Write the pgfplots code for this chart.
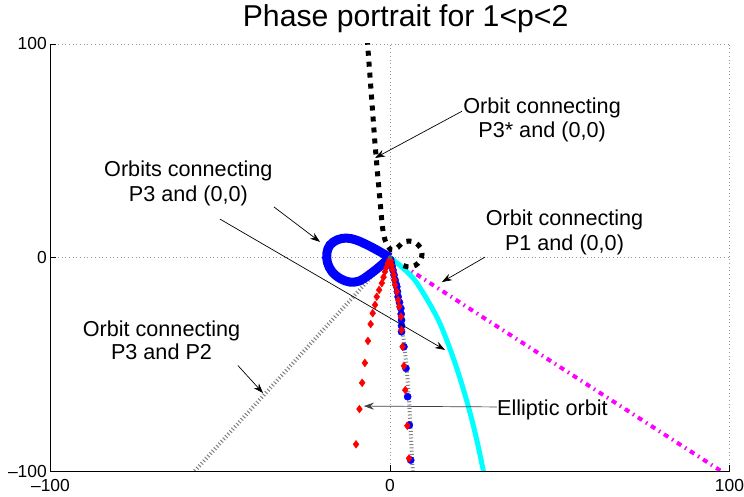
\documentclass[border=0pt]{standalone}
\usepackage{pgfplots}
\pgfplotsset{compat=1.18}
\usepackage{fontspec}
\setmainfont{Liberation Sans}
\usetikzlibrary{arrows.meta}
\definecolor{mcyan}{rgb}{0,1,1}
\definecolor{mmag}{rgb}{1,0,1}
\definecolor{mblue}{rgb}{0,0,1}
\definecolor{mred}{rgb}{1,0,0}
\definecolor{mgray}{rgb}{0.5,0.5,0.5}
\newcommand{\annfont}{\fontsize{21.7}{25}\selectfont}
\begin{document}
\begin{tikzpicture}
\begin{axis}[
  at={(0,0)}, anchor=south west,
  scale only axis, width=679bp, height=427bp,
  xmin=-100,xmax=100,ymin=-100,ymax=100,
  axis x line*=bottom, axis y line*=left,
  axis line style={line width=0.8bp, black},
  xtick={-100,0,100}, ytick={-100,0,100},
  xticklabels={\textendash100,0,100}, yticklabels={\textendash100,0,100},
  tick label style={font=\fontsize{17.5}{20}\selectfont, inner sep=0pt},
  xticklabel style={yshift=-8.5bp}, yticklabel style={xshift=-3.5bp},
  tick align=inside, major tick length=6bp, tick style={black, line width=0.6bp},
  grid=major, major grid style={gray!80, line width=0.7bp, dash pattern=on 0.7bp off 3bp},
  clip mode=individual,
]
% gray ticked orbit P3 -- P2
\addplot[mgray, line width=4bp, dash pattern=on 1bp off 2.3bp] coordinates {(-57.5,-100) (-2,-3)};
% gray ticked orbit along elliptic branch
\addplot[mgray, line width=4bp, dash pattern=on 1bp off 2.3bp, smooth] coordinates {(0,0) (0.6,-4) (1.3,-10) (2.1,-17) (2.8,-24) (3.5,-31) (4.1,-40) (4.8,-50) (5.4,-62) (6.0,-78) (6.5,-94) (6.7,-100)};
% magenta dash-dot P1
\addplot[mmag, line width=4bp, dash pattern=on 5bp off 4.5bp on 1.5bp off 4.5bp] coordinates {(4,-4) (97.5,-100)};
% cyan
\addplot[mcyan, line width=5bp, smooth] coordinates {(0,0) (3,-3.8) (7,-10) (10.5,-18.5) (14.3,-29.5) (17.5,-42) (20.5,-56) (23.2,-70.5) (25.5,-85) (27.5,-100) (27.8,-103)};
% black dotted P3*
\addplot[black, line width=5bp, dash pattern=on 5bp off 6bp, smooth, tension=0.5] coordinates {(-6.7,102) (-5.9,85) (-5.2,70) (-4.5,55) (-3.7,40) (-2.9,26) (-2.2,14) (-1.3,7.5) (0.3,3.6) (2.27,4.68) (3.68,6.93) (5.6,7.73) (7.51,6.93) (8.93,4.68) (9.43,1.64) (8.93,-1.41) (7.51,-3.65) (5.6,-4.45) (3.68,-3.65)};
% blue loop
\addplot[mblue, line width=9bp, smooth, tension=0.6] coordinates {(0,0) (-2.5,2.3) (-5,4.5) (-7.5,6.5) (-10,8.2) (-12.8,9.1) (-15.5,8.3) (-17.7,5.8) (-18.6,2) (-18.4,-2.5) (-17,-6.8) (-14.5,-10) (-11.8,-11.5) (-9,-11) (-6.5,-8.5) (-4,-5.5) (-2,-2.8) (0,0)};
% blue circles
\addplot[only marks, mark=*, mark size=3.6bp, mblue] coordinates {(0.2,-1) (0.4,-2.5) (0.6,-4) (0.9,-6) (1.2,-8.2) (1.5,-10.5) (1.8,-12.5) (2.0,-13.7) (2.2,-16) (2.4,-18.4) (2.8,-21) (3.2,-23.8) (3.3,-26.5) (3.4,-29.3) (3.4,-32) (3.4,-34.8) (4.1,-41.8) (4.7,-51.9) (5.2,-65.2) (5.7,-78.5) (6.1,-94.9)};
% red diamonds
\addplot[only marks, mark=diamond*, mark size=3.9bp, mred] coordinates {(0.2,-1.5) (0.5,-3.5) (0.8,-5.8) (1.1,-8.2) (1.3,-10.5) (1.5,-12.9) (2.0,-16.0) (2.4,-19.9) (2.7,-23.0) (3.2,-27.7) (3.4,-34.0) (3.7,-41.8) (4.1,-50.8) (4.5,-62.1) (5.1,-78.8) (5.6,-94.1)};
\addplot[only marks, mark=diamond*, mark size=3.9bp, mred] coordinates {(-0.2,-1.2) (-0.6,-2.7) (-1.0,-4.6) (-1.5,-6.7) (-1.9,-9.2) (-2.4,-12) (-3.2,-15.2) (-3.9,-18.4) (-4.4,-22.2) (-5.1,-26.1) (-5.7,-31.2) (-6.5,-39.1) (-7.4,-49.4) (-8.2,-58.7) (-9.0,-71.0) (-10.0,-87.5)};
% origin marker
\addplot[only marks, mark=*, mark size=2bp, draw=mmag, fill=green!60!black] coordinates {(0,0)};

% annotations
\tikzset{ann/.style={black, line width=0.7bp, -{Stealth[length=10bp,width=7bp]}}}
\draw[ann] (axis cs:21.2,68.5) -- (axis cs:-4.4,46.6);
\draw[ann] (axis cs:-34.2,23.7) -- (axis cs:-20.6,7.3);
\draw[ann] (axis cs:-50.1,18.0) -- (axis cs:16.2,-43.3);
\draw[ann] (axis cs:28.0,0.2) -- (axis cs:15.3,-11.5);
\draw[ann] (axis cs:-44.8,-50.6) -- (axis cs:-37.4,-63.5);
\draw[ann, draw=black!75] (axis cs:31.5,-70.0) -- (axis cs:-7.7,-69.6);

\node[anchor=base, font=\annfont] at (axis cs:44.8,67.5) {Orbit connecting};
\node[anchor=base, font=\annfont] at (axis cs:44.8,56.1) {P3* and (0,0)};
\node[anchor=base, font=\annfont] at (axis cs:-59.4,37.8) {Orbits connecting};
\node[anchor=base, font=\annfont] at (axis cs:-59.4,26.1) {P3 and (0,0)};
\node[anchor=base, font=\annfont] at (axis cs:51.4,14.8) {Orbit connecting};
\node[anchor=base, font=\annfont] at (axis cs:51.4,3.2) {P1 and (0,0)};
\node[anchor=base, font=\annfont] at (axis cs:-67.3,-36.8) {Orbit connecting};
\node[anchor=base, font=\annfont] at (axis cs:-67.3,-48.0) {P3 and P2};
\node[anchor=base west, font=\annfont, inner sep=0pt] at (axis cs:31.5,-73.8) {Elliptic orbit};
\node[anchor=base, font=\fontsize{30.3}{35}\selectfont] at (axis cs:4.6,108) {Phase portrait for 1<p<2};
\end{axis}
\pgfresetboundingbox
\path (-50.5bp,-26bp) rectangle (693.5bp,471bp);
\end{tikzpicture}
\end{document}
